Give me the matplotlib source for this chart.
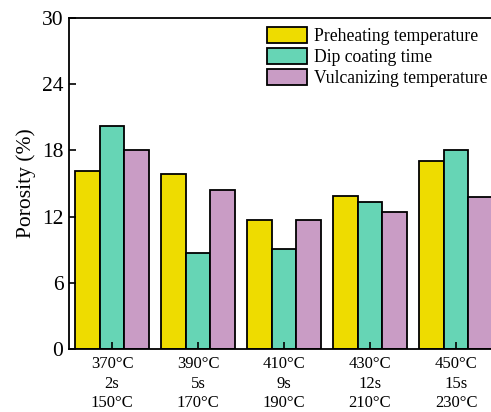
import numpy as np
import matplotlib
matplotlib.use("Agg")
import matplotlib.pyplot as plt

plt.rcParams["font.family"] = ["Liberation Serif", "DejaVu Serif"]

groups = ["370°C\n2s\n150°C", "390°C\n5s\n170°C", "410°C\n9s\n190°C",
          "430°C\n12s\n210°C", "450°C\n15s\n230°C"]
preheat = [16.1, 15.9, 11.7, 13.9, 17.0]
dip_time = [20.2, 8.7, 9.1, 13.3, 18.0]
vulcan = [18.0, 14.4, 11.7, 12.4, 13.8]

series = ["Preheating temperature", "Dip coating time", "Vulcanizing temperature"]
colors = ["#EEDC00", "#66D5B5", "#C99CC5"]

fig = plt.figure(figsize=(4.91, 4.12), dpi=100)
ax = fig.add_axes([69/491, 63/412, 430/491, 331/412])

x = np.arange(1, len(groups) + 1)
w = 0.285
for i, (vals, lab, c) in enumerate(zip([preheat, dip_time, vulcan], series, colors)):
    ax.bar(x + (i - 1) * w, vals, w, color=c, edgecolor="black", linewidth=1.3, label=lab)

ax.set_xlim(0.5, 5.5)
ax.set_ylim(0, 30)
ax.set_yticks([0, 6, 12, 18, 24, 30])
ax.set_xticks(x)
ax.set_xticklabels(groups, fontsize=12, linespacing=1.3)
ax.tick_params(axis="y", direction="in", length=5, width=1.2, labelsize=15.5, pad=4)
ax.tick_params(axis="x", direction="in", length=5, width=1.2, pad=5)
ax.set_ylabel("Porosity (%)", fontsize=15.5, labelpad=4)
for s in ax.spines.values():
    s.set_linewidth(1.3)

ax.legend(loc="upper left", bbox_to_anchor=(0.4396, 1.0), frameon=False,
          fontsize=12.7, borderpad=0, handlelength=2.3, handleheight=1.03,
          handletextpad=0.35, labelspacing=0.17)

fig.savefig("out.png", dpi=100)
